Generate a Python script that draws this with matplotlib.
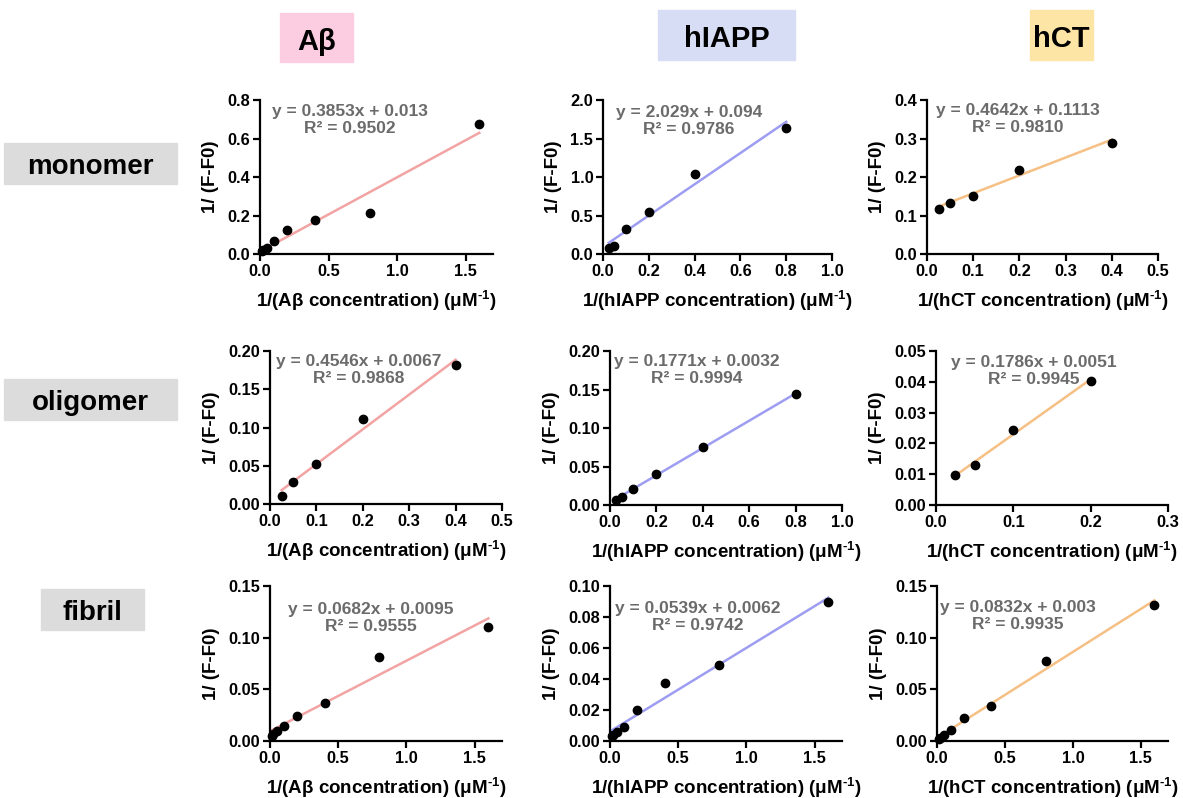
import matplotlib.pyplot as plt
import matplotlib.ticker as mticker

plt.rcParams['font.family'] = ['Liberation Sans', 'DejaVu Sans']
plt.rcParams['font.weight'] = 'bold'
plt.rcParams['mathtext.fontset'] = 'custom'
plt.rcParams['mathtext.bf'] = 'Liberation Sans:bold'
plt.rcParams['mathtext.rm'] = 'Liberation Sans:bold'
plt.rcParams['mathtext.default'] = 'bf'

peptides = ['Aβ', 'hIAPP', 'hCT']
states = ['monomer', 'oligomer', 'fibril']

# measured points (x = 1/concentration, y = 1/(F-F0))
ab_mono_x = [0.0125, 0.025, 0.05, 0.1, 0.2, 0.4, 0.8, 1.6]
ab_mono_y = [0.015, 0.022, 0.032, 0.065, 0.125, 0.178, 0.213, 0.675]
hiapp_mono_x = [0.025, 0.05, 0.1, 0.2, 0.4, 0.8]
hiapp_mono_y = [0.08, 0.10, 0.33, 0.54, 1.04, 1.63]
hct_mono_x = [0.025, 0.05, 0.1, 0.2, 0.4]
hct_mono_y = [0.118, 0.133, 0.151, 0.219, 0.289]

ab_olig_x = [0.025, 0.05, 0.1, 0.2, 0.4]
ab_olig_y = [0.011, 0.029, 0.052, 0.111, 0.182]
hiapp_olig_x = [0.025, 0.05, 0.1, 0.2, 0.4, 0.8]
hiapp_olig_y = [0.006, 0.010, 0.021, 0.040, 0.075, 0.144]
hct_olig_x = [0.025, 0.05, 0.1, 0.2]
hct_olig_y = [0.0097, 0.0129, 0.0242, 0.0403]

ab_fib_x = [0.0125, 0.025, 0.05, 0.1, 0.2, 0.4, 0.8, 1.6]
ab_fib_y = [0.005, 0.007, 0.0095, 0.015, 0.024, 0.037, 0.081, 0.110]
hiapp_fib_x = [0.0125, 0.025, 0.05, 0.1, 0.2, 0.4, 0.8, 1.6]
hiapp_fib_y = [0.003, 0.004, 0.0055, 0.009, 0.020, 0.0375, 0.049, 0.090]
hct_fib_x = [0.0125, 0.025, 0.05, 0.1, 0.2, 0.4, 0.8, 1.6]
hct_fib_y = [0.002, 0.003, 0.006, 0.011, 0.022, 0.034, 0.077, 0.132]

# linear fits as printed on the chart
slopes = [[0.3853, 2.029, 0.4642],
          [0.4546, 0.1771, 0.1786],
          [0.0682, 0.0539, 0.0832]]
intercepts = [[0.013, 0.094, 0.1113],
              [0.0067, 0.0032, 0.0051],
              [0.0095, 0.0062, 0.003]]
slope_txt = [['0.3853', '2.029', '0.4642'],
             ['0.4546', '0.1771', '0.1786'],
             ['0.0682', '0.0539', '0.0832']]
intercept_txt = [['0.013', '0.094', '0.1113'],
                 ['0.0067', '0.0032', '0.0051'],
                 ['0.0095', '0.0062', '0.003']]
r2_txt = [['0.9502', '0.9786', '0.9810'],
          ['0.9868', '0.9994', '0.9945'],
          ['0.9555', '0.9742', '0.9935']]

xs = [[ab_mono_x, hiapp_mono_x, hct_mono_x],
      [ab_olig_x, hiapp_olig_x, hct_olig_x],
      [ab_fib_x, hiapp_fib_x, hct_fib_x]]
ys = [[ab_mono_y, hiapp_mono_y, hct_mono_y],
      [ab_olig_y, hiapp_olig_y, hct_olig_y],
      [ab_fib_y, hiapp_fib_y, hct_fib_y]]

line_colors = ['#f2a3a3', '#9d9df2', '#f6c085']
head_colors = ['#fccde0', '#d6ddf4', '#fde5a6']

# axes limits / tick steps / tick formats
xlims = [[1.7, 1.0, 0.5], [0.5, 1.0, 0.3], [1.7, 1.7, 1.7]]
xsteps = [[0.5, 0.2, 0.1], [0.1, 0.2, 0.1], [0.5, 0.5, 0.5]]
ylims = [[0.8, 2.0, 0.4], [0.20, 0.20, 0.05], [0.15, 0.10, 0.15]]
ysteps = [[0.2, 0.5, 0.1], [0.05, 0.05, 0.01], [0.05, 0.02, 0.05]]
yfmts = [['%.1f', '%.1f', '%.1f'], ['%.2f', '%.2f', '%.2f'], ['%.2f', '%.2f', '%.2f']]

W, H = 1183, 798
fig = plt.figure(figsize=(W / 100, H / 100), dpi=100)

# axes boxes in pixels: left, right, top, bottom
boxes = [[(260, 493, 100, 254), (603, 832, 100, 254), (927, 1158, 100, 254)],
         [(270, 502, 351, 504), (610, 842, 351, 505), (936, 1168, 351, 505)],
         [(270, 502, 586, 741), (610, 842, 586, 741), (937, 1168, 586, 741)]]
# equation text centre (first line) in pixels
eq_pos = [[(350, 110), (689, 111), (1018, 109)],
          [(359, 360), (697, 360), (1034, 361)],
          [(371, 608), (698, 607), (1018, 606)]]

for r in range(3):
    for c in range(3):
        l, rt, t, b = boxes[r][c]
        ax = fig.add_axes([l / W, 1 - b / H, (rt - l) / W, (b - t) / H])
        x = xs[r][c]
        y = ys[r][c]
        m = slopes[r][c]
        k = intercepts[r][c]
        fx = [min(x), max(x)]
        ax.plot(fx, [m * v + k for v in fx], color=line_colors[c], lw=1.8, zorder=2)
        ax.plot(x, y, 'o', color='black', ms=6, zorder=3, clip_on=False)
        ax.set_xlim(0, xlims[r][c])
        ax.set_ylim(0, ylims[r][c])
        ax.xaxis.set_major_locator(mticker.MultipleLocator(xsteps[r][c]))
        ax.yaxis.set_major_locator(mticker.MultipleLocator(ysteps[r][c]))
        ax.xaxis.set_major_formatter(mticker.FormatStrFormatter('%.1f'))
        ax.yaxis.set_major_formatter(mticker.FormatStrFormatter(yfmts[r][c]))
        for s in ['top', 'right']:
            ax.spines[s].set_visible(False)
        for s in ['left', 'bottom']:
            ax.spines[s].set_linewidth(1.6)
        ax.tick_params(width=1.6, length=5, labelsize=11.8, pad=2)
        for lab in ax.get_xticklabels() + ax.get_yticklabels():
            lab.set_fontweight('bold')
        ax.set_xlabel('1/(%s concentration) (μM$^{\\text{-1}}$)' % peptides[c],
                      fontsize=13.5, fontweight='bold', labelpad=7)
        ax.set_ylabel('1/ (F-F0)', fontsize=13.5, fontweight='bold', labelpad=6)
        ex, ey = eq_pos[r][c]
        fig.text(ex / W, 1 - (ey + 10) / H,
                 'y = %sx + %s\nR² = %s' % (slope_txt[r][c], intercept_txt[r][c], r2_txt[r][c]),
                 ha='center', va='center', ma='center', fontsize=12.5,
                 fontweight='bold', color='#6b6b6b', linespacing=1.2)

# column headers
head_boxes = [(280, 353, 13, 62), (658, 795, 10, 60), (1030, 1093, 10, 60)]
for c in range(3):
    l, rt, t, b = head_boxes[c]
    fig.text((l + rt) / 2 / W, 1 - ((t + b) / 2 + 4) / H, peptides[c], ha='center', va='center',
             fontsize=21, fontweight='bold', color='black')
    fig.patches.append(plt.Rectangle((l / W, 1 - b / H), (rt - l) / W, (b - t) / H,
                                     transform=fig.transFigure, color=head_colors[c],
                                     zorder=0, figure=fig))

# row labels
row_boxes = [(4, 177, 143, 184), (4, 177, 379, 420), (41, 144, 589, 630)]
for r in range(3):
    l, rt, t, b = row_boxes[r]
    fig.text((l + rt) / 2 / W, 1 - ((t + b) / 2 + 4) / H, states[r], ha='center', va='center',
             fontsize=20, fontweight='bold', color='black')
    fig.patches.append(plt.Rectangle((l / W, 1 - b / H), (rt - l) / W, (b - t) / H,
                                     transform=fig.transFigure, color='#dcdcdc',
                                     zorder=0, figure=fig))

fig.savefig('out.png', dpi=100)
